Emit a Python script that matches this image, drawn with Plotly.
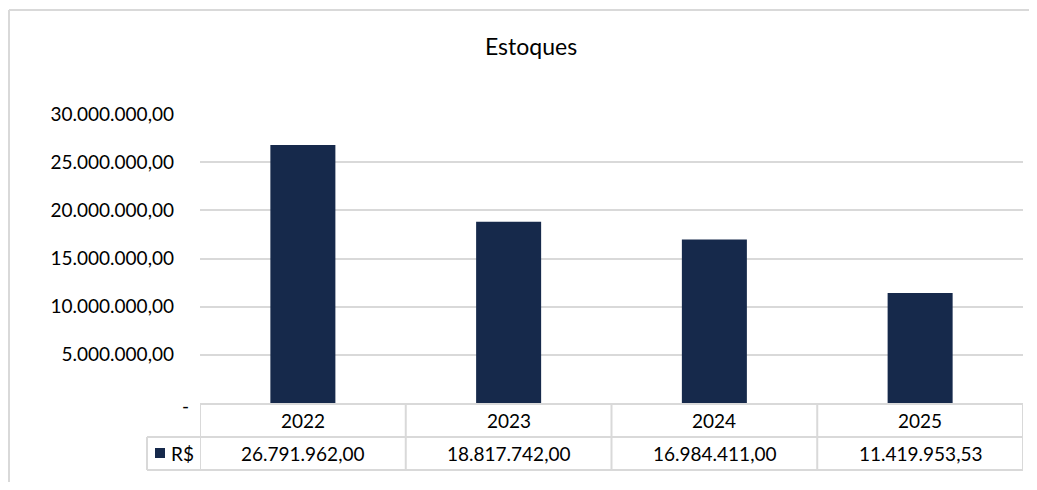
import plotly.graph_objects as go

categories = ["2022", "2023", "2024", "2025"]
values = [26791962.00, 18817742.00, 16984411.00, 11419953.53]
tick_vals = [0, 5000000, 10000000, 15000000, 20000000, 25000000, 30000000]
series_name = "R$"
title = "Estoques"

OFF = 8  # page body margin
W, H = 1037 - 2 * OFF, 490 - 2 * OFF
BAR = "#16294B"
GRID = "#D9D9D9"
FONT = "Lato"
FS = 19


def br(v):
    s = f"{v:,.2f}"
    return s.replace(",", "X").replace(".", ",").replace("X", ".")


def px(x):
    return (x - OFF) / W


def py(y):
    return 1 - (y - OFF) / H


tick_text = ["" if v == 0 else br(v) for v in tick_vals]
idx = list(range(len(categories)))

fig = go.Figure()
fig.add_trace(go.Bar(x=categories, y=values, marker=dict(color=BAR, line=dict(width=0)),
                     width=0.316, name=series_name, hoverinfo="x+y"))

x0, x1 = 200, 1023
ytop, ybot = 114, 403

shapes = []
shapes.append(dict(type="line", xref="paper", yref="paper", x0=px(9), x1=px(1045), y0=py(10), y1=py(10),
                   line=dict(color="#D9D9D9", width=2), layer="below"))
shapes.append(dict(type="line", xref="paper", yref="paper", x0=px(9), x1=px(9), y0=py(10), y1=py(500),
                   line=dict(color="#D9D9D9", width=2), layer="below"))
tl = dict(color="#D9D9D9", width=2)
shapes.append(dict(type="line", xref="paper", yref="paper", x0=px(x0), x1=px(x1), y0=py(404), y1=py(404), line=tl))
shapes.append(dict(type="line", xref="paper", yref="paper", x0=px(147), x1=px(x1), y0=py(437), y1=py(437), line=tl))
shapes.append(dict(type="line", xref="paper", yref="paper", x0=px(147), x1=px(x1), y0=py(470), y1=py(470), line=tl))
shapes.append(dict(type="line", xref="paper", yref="paper", x0=px(147), x1=px(147), y0=py(437), y1=py(470), line=tl))
for i in range(len(categories) + 1):
    shapes.append(dict(type="line", xref="x", yref="paper", x0=i - 0.5, x1=i - 0.5, y0=py(404), y1=py(470), line=tl))
shapes.append(dict(type="rect", xref="paper", yref="paper", x0=px(155), x1=px(165), y0=py(458), y1=py(448),
                   fillcolor=BAR, line=dict(width=0)))

txt = dict(family=FONT, size=FS, color="#000000")
ann = []
for i, c, v in zip(idx, categories, values):
    ann.append(dict(x=i, xref="x", y=py(420), yref="paper", text=c, showarrow=False,
                    xanchor="center", yanchor="middle", font=txt))
    ann.append(dict(x=i, xref="x", y=py(453), yref="paper", text=br(v), showarrow=False,
                    xanchor="center", yanchor="middle", font=txt))
ann.append(dict(x=px(169), xref="paper", y=py(453), yref="paper", text=series_name, showarrow=False,
                xanchor="left", yanchor="middle", font=txt))
ann.append(dict(x=px(185), xref="paper", y=0, yref="y", text="-", showarrow=False,
                xanchor="center", yanchor="middle", yshift=-2, font=txt))
ann.append(dict(x=px(531), xref="paper", y=py(46), yref="paper", text=title, showarrow=False,
                xanchor="center", yanchor="middle", font=dict(family=FONT, size=23, color="#000000")))

fig.update_layout(
    width=W, height=H,
    margin=dict(l=0, r=0, t=0, b=0, autoexpand=False),
    paper_bgcolor="white", plot_bgcolor="white",
    showlegend=False,
    font=txt,
    xaxis=dict(type="category", domain=[px(x0), px(x1)], range=[-0.5, 3.5], showticklabels=False,
               showgrid=False, zeroline=False, showline=False, ticks=""),
    yaxis=dict(domain=[py(ybot), py(ytop)], range=[0, 30000000], tickvals=tick_vals, ticktext=tick_text,
               showgrid=True, gridcolor=GRID, gridwidth=1.5, zeroline=False, showline=False, ticks="",
               ticklabelstandoff=25, tickfont=txt),
    shapes=shapes,
    annotations=ann,
)

fig.write_html("out.html")
